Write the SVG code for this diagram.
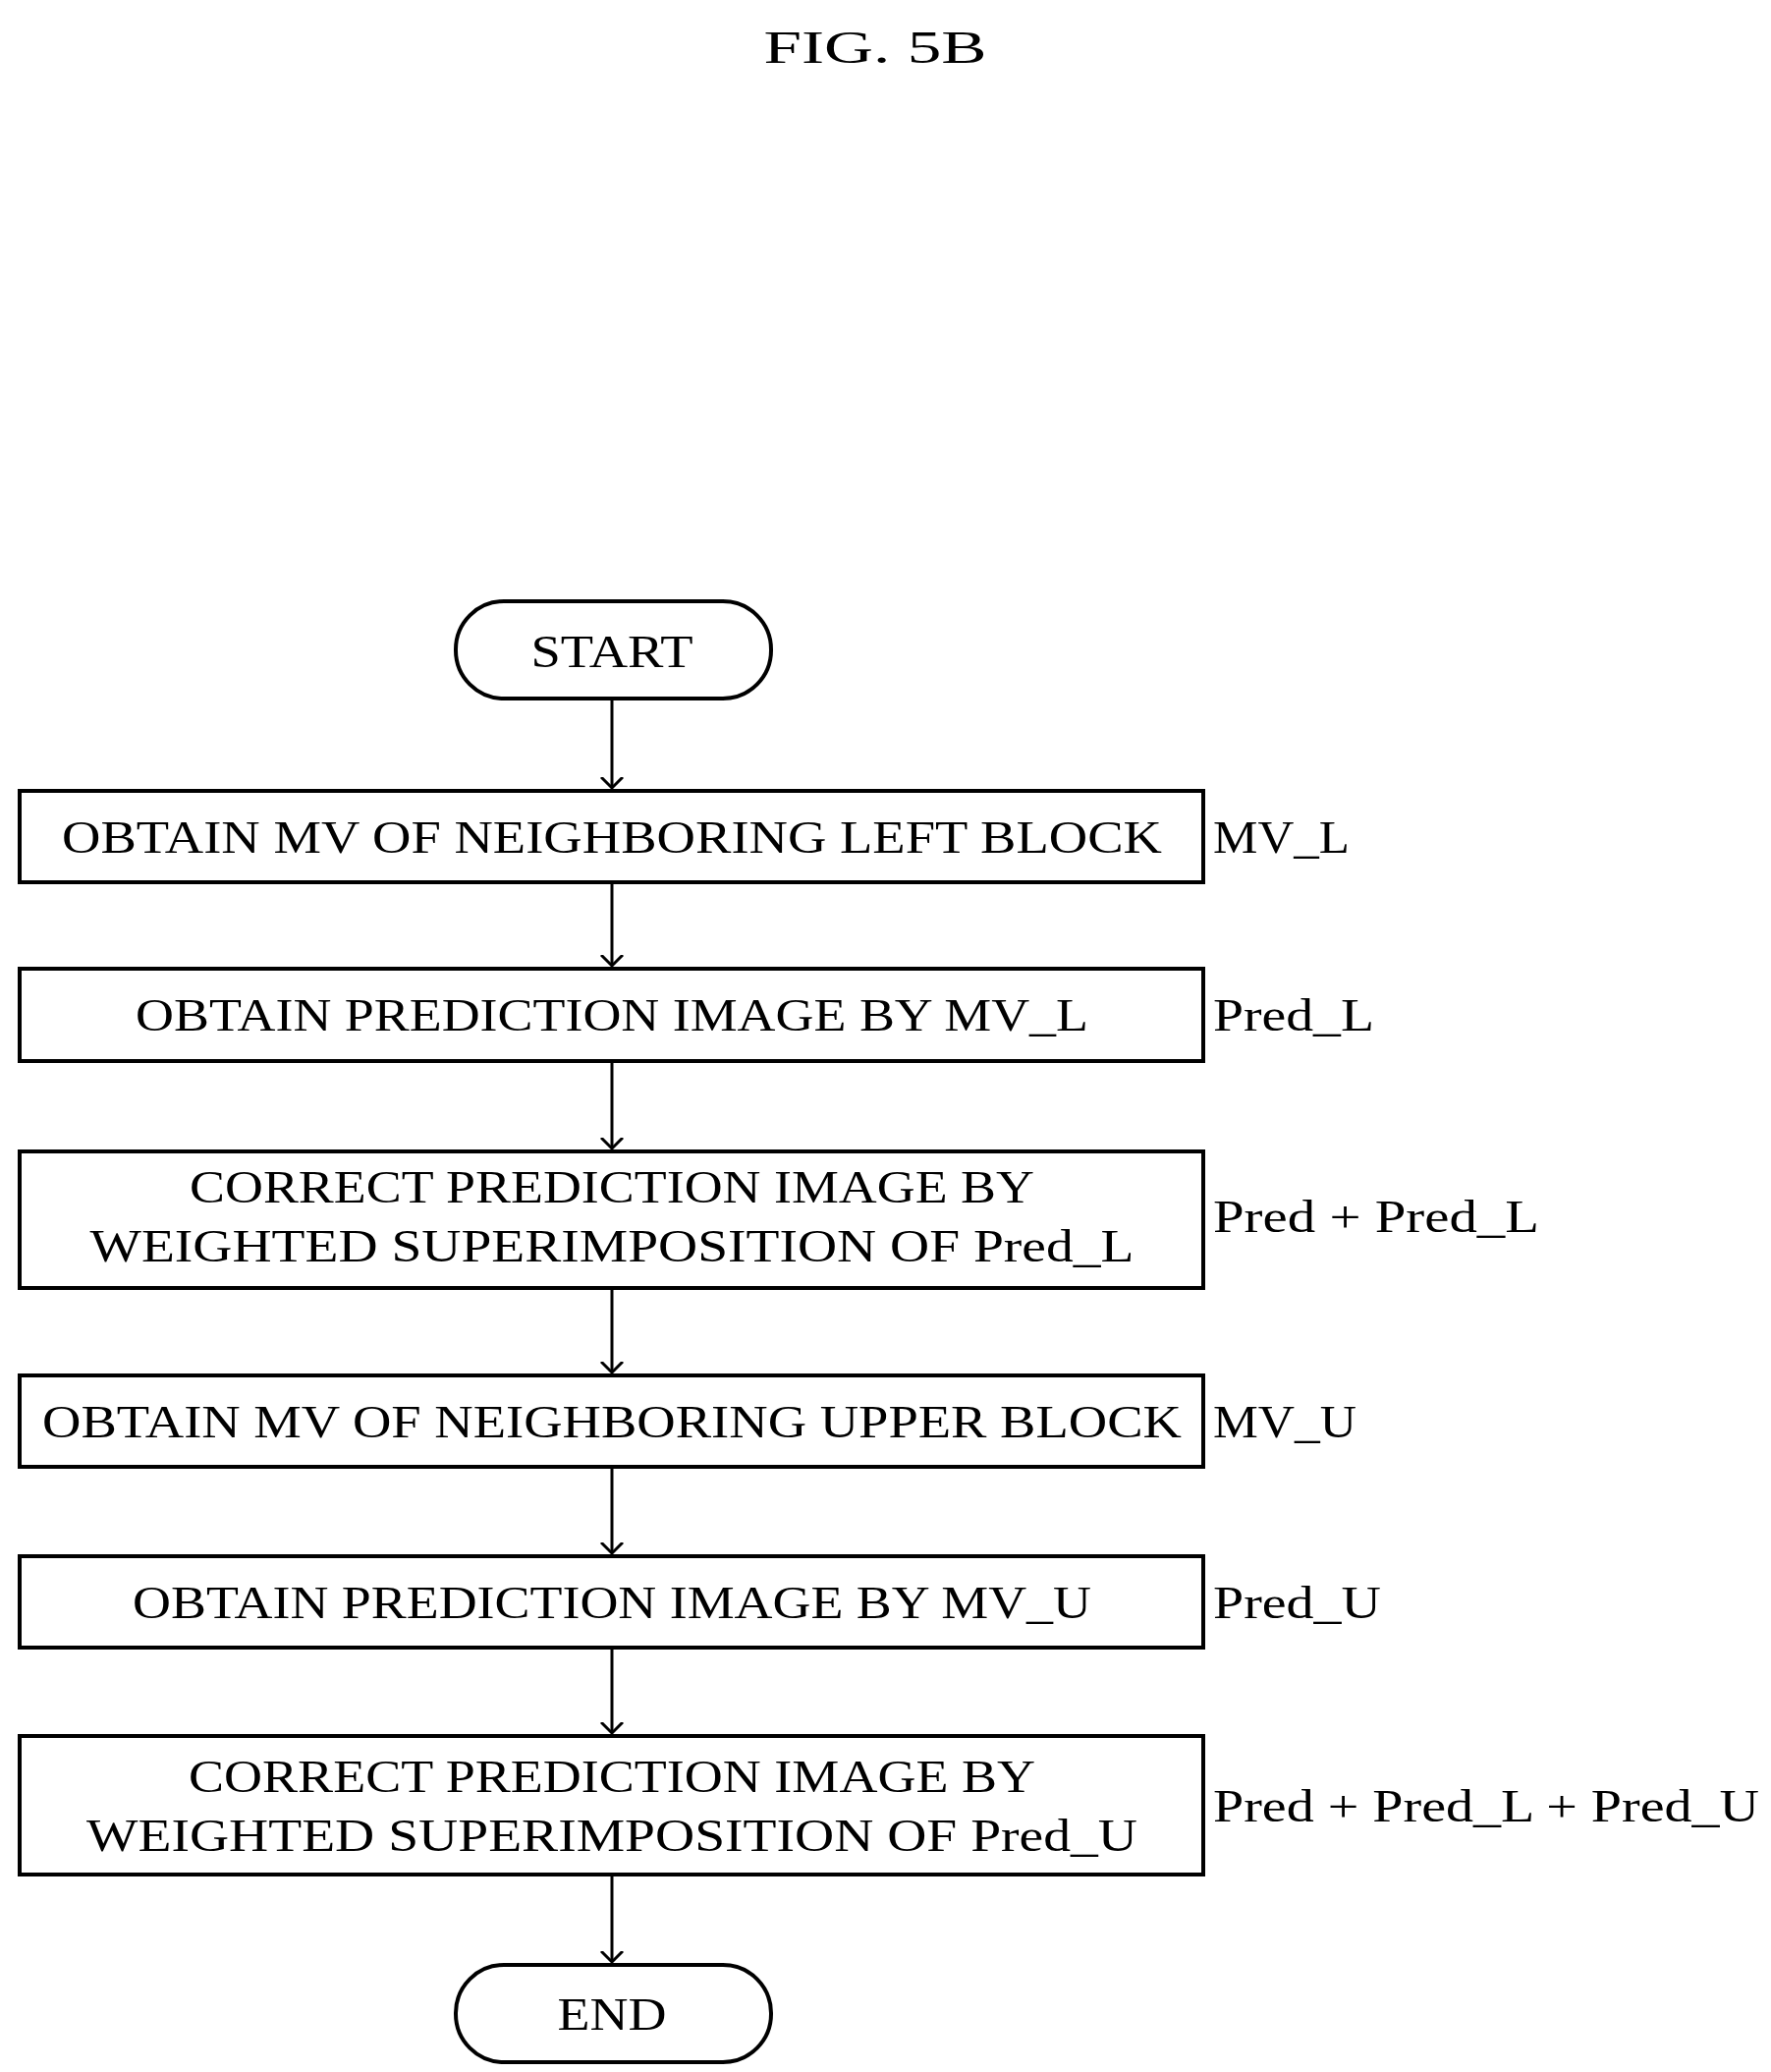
<svg xmlns="http://www.w3.org/2000/svg" width="1803" height="2109" viewBox="0 0 1803 2109">
<style>
.b{fill:#fff;stroke:#000;stroke-width:4}
.t{font-family:"Liberation Serif",serif;font-size:47px;text-anchor:middle;fill:#000}
.l{font-family:"Liberation Serif",serif;font-size:47px;fill:#000}
.c{stroke:#000;stroke-width:3;fill:none}
</style>
<defs><marker id="a" markerWidth="20" markerHeight="24" refX="11" refY="12" orient="auto" markerUnits="userSpaceOnUse"><path d="M0,1 L11,12 L0,23" fill="none" stroke="#000" stroke-width="3"/></marker></defs>
<rect width="1803" height="2109" fill="#fff"/>
<text class="t" x="891" y="64" font-size="56" textLength="227" lengthAdjust="spacingAndGlyphs">FIG. 5B</text>
<g id="connectors">
<line class="c" x1="623" y1="711" x2="623" y2="802" marker-end="url(#a)"/>
<line class="c" x1="623" y1="898" x2="623" y2="983" marker-end="url(#a)"/>
<line class="c" x1="623" y1="1080" x2="623" y2="1169" marker-end="url(#a)"/>
<line class="c" x1="623" y1="1311" x2="623" y2="1397" marker-end="url(#a)"/>
<line class="c" x1="623" y1="1493" x2="623" y2="1581" marker-end="url(#a)"/>
<line class="c" x1="623" y1="1677" x2="623" y2="1764" marker-end="url(#a)"/>
<line class="c" x1="623" y1="1908" x2="623" y2="1997" marker-end="url(#a)"/>
</g>
<g id="start"><rect class="b" x="464" y="612" width="321" height="99" rx="49"/><text class="t" x="623" y="679" textLength="165" lengthAdjust="spacingAndGlyphs">START</text></g>
<g id="n1"><rect class="b" x="20" y="805" width="1205" height="93"/><text class="t" x="623" y="868" textLength="1120" lengthAdjust="spacingAndGlyphs">OBTAIN MV OF NEIGHBORING LEFT BLOCK</text><text class="l" x="1235" y="868" textLength="139" lengthAdjust="spacingAndGlyphs">MV_L</text></g>
<g id="n2"><rect class="b" x="20" y="986" width="1205" height="94"/><text class="t" x="623" y="1049" textLength="970" lengthAdjust="spacingAndGlyphs">OBTAIN PREDICTION IMAGE BY MV_L</text><text class="l" x="1235" y="1049" textLength="164" lengthAdjust="spacingAndGlyphs">Pred_L</text></g>
<g id="n3"><rect class="b" x="20" y="1172" width="1205" height="139"/><text class="t" x="623" y="1224" textLength="860" lengthAdjust="spacingAndGlyphs">CORRECT PREDICTION IMAGE BY</text><text class="t" x="623" y="1284" textLength="1063" lengthAdjust="spacingAndGlyphs">WEIGHTED SUPERIMPOSITION OF Pred_L</text><text class="l" x="1235" y="1254" textLength="332" lengthAdjust="spacingAndGlyphs">Pred + Pred_L</text></g>
<g id="n4"><rect class="b" x="20" y="1400" width="1205" height="93"/><text class="t" x="623" y="1463" textLength="1160" lengthAdjust="spacingAndGlyphs">OBTAIN MV OF NEIGHBORING UPPER BLOCK</text><text class="l" x="1235" y="1463" textLength="146" lengthAdjust="spacingAndGlyphs">MV_U</text></g>
<g id="n5"><rect class="b" x="20" y="1584" width="1205" height="93"/><text class="t" x="623" y="1647" textLength="976" lengthAdjust="spacingAndGlyphs">OBTAIN PREDICTION IMAGE BY MV_U</text><text class="l" x="1235" y="1647" textLength="171" lengthAdjust="spacingAndGlyphs">Pred_U</text></g>
<g id="n6"><rect class="b" x="20" y="1767" width="1205" height="141"/><text class="t" x="623" y="1824" textLength="862" lengthAdjust="spacingAndGlyphs">CORRECT PREDICTION IMAGE BY</text><text class="t" x="623" y="1884" textLength="1070" lengthAdjust="spacingAndGlyphs">WEIGHTED SUPERIMPOSITION OF Pred_U</text><text class="l" x="1235" y="1854" textLength="556" lengthAdjust="spacingAndGlyphs">Pred + Pred_L + Pred_U</text></g>
<g id="end"><rect class="b" x="464" y="2000" width="321" height="99" rx="49"/><text class="t" x="623" y="2066" textLength="111" lengthAdjust="spacingAndGlyphs">END</text></g>
</svg>
